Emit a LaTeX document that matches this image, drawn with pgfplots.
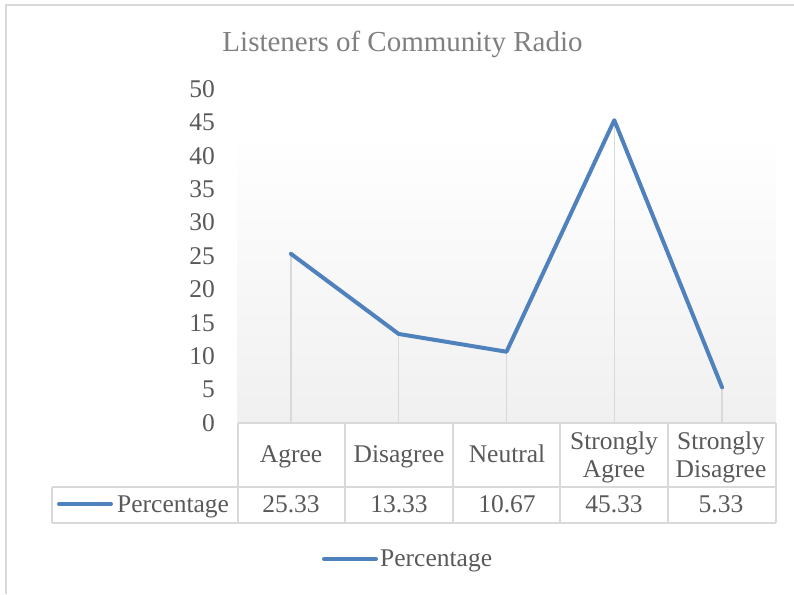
\documentclass[border=0pt]{standalone}
\usepackage{fontspec}
\setmainfont{Liberation Serif}
\usepackage{pgfplots}
\usepackage{pgfplotstable}
\pgfplotsset{compat=1.18}

\definecolor{lineblue}{RGB}{79,129,189}
\definecolor{gridgray}{RGB}{217,217,217}
\definecolor{txtgray}{RGB}{89,89,89}
\definecolor{titlegray}{RGB}{128,128,128}
\definecolor{areagray}{RGB}{240,240,240}

\pgfplotstableread{
idx pct
0 25.33
1 13.33
2 10.67
3 45.33
4 5.33
}\survey

\newcommand{\lbl}{\fontsize{25.5}{28}\selectfont}

\begin{document}
\begin{tikzpicture}[x=1pt,y=1pt,font=\lbl]
% page area (y measured upwards from the bottom edge)
\path[use as bounding box] (0,0) rectangle (794,594);
% chart frame
\draw[gridgray,line width=2pt] (6,0) -- (6,589) -- (794,589);

% title
\node[titlegray,font=\fontsize{29}{32}\selectfont,anchor=base,inner sep=0pt]
  at (402.5,542) {Listeners of Community Radio};

% plot area fill
\shade[top color=white,bottom color=areagray] (237,171) rectangle (776,461);

\begin{axis}[
  at={(237pt,171pt)}, anchor=south west,
  scale only axis, width=539pt, height=334pt,
  xmin=-0.5, xmax=4.5, ymin=0, ymax=50,
  ytick={0,5,...,50}, xtick=\empty,
  axis line style={draw=none},
  major tick length=0pt,
  /pgf/number format/assume math mode=true,
  yticklabel style={anchor=east,inner sep=0pt,xshift=-22pt,text=txtgray,
    font=\lbl},
  clip=false,
]
\addplot[ycomb,gridgray,line width=1.5pt] table[x=idx,y=pct]{\survey};
\addplot[lineblue,line width=4pt,line cap=round,line join=round] table[x=idx,y=pct]{\survey};
\end{axis}

% data table grid
\begin{scope}[gridgray,line width=2pt]
  \draw (238,171) -- (776,171);
  \draw (52,107) -- (776,107);
  \draw (52,71) -- (776,71);
  \foreach \xx in {238,345,453,560,668,776} \draw (\xx,171) -- (\xx,71);
  \draw (52,107) -- (52,71);
\end{scope}

% category names
\begin{scope}[text=txtgray,every node/.style={anchor=base,inner sep=0pt}]
  \node at (291,131) {Agree};
  \node at (399,131) {Disagree};
  \node at (507,131) {Neutral};
  \node at (614,144) {Strongly};
  \node at (614,117) {Agree};
  \node at (721,144) {Strongly};
  \node at (721,117) {Disagree};
  % values row, taken from the same table as the line
  \foreach \i/\cx in {0/291,1/399,2/507,3/614,4/721}{
    \pgfplotstablegetelem{\i}{pct}\of\survey
    \node at (\cx,81.5) {\pgfplotsretval};
  }
  % series key in the table
  \draw[lineblue,line width=4pt,line cap=round] (59,90) -- (111,90);
  \node[anchor=base west] at (117,81.5) {Percentage};
  % legend
  \draw[lineblue,line width=4pt,line cap=round] (324,35) -- (376,35);
  \node[anchor=base west] at (380,27.5) {Percentage};
\end{scope}
\end{tikzpicture}
\end{document}
